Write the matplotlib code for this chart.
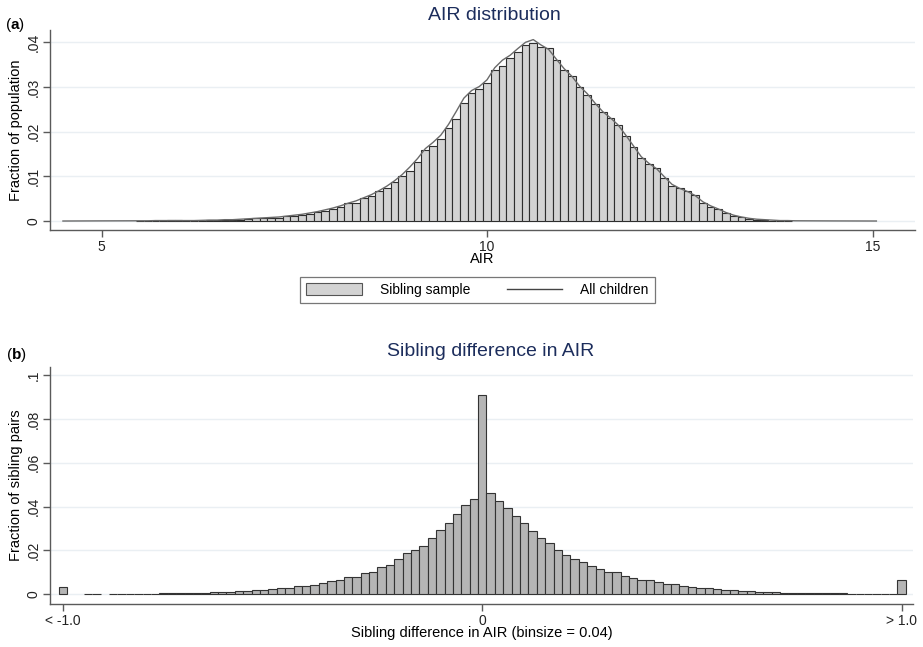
import numpy as np
import matplotlib
matplotlib.use("Agg")
import matplotlib.pyplot as plt
from matplotlib.patches import Patch
from matplotlib.lines import Line2D

plt.rcParams['font.family'] = ['Liberation Sans', 'DejaVu Sans']
plt.rcParams['mathtext.fontset'] = 'custom'
plt.rcParams['mathtext.rm'] = 'Liberation Sans'
plt.rcParams['mathtext.bf'] = 'Liberation Sans:bold'

# --- panel (a): AIR distribution, bins of 0.1 ---
air_centers = np.round(np.arange(5.5, 13.95, 0.1), 1)
sibling_share = [
    0.00005, 0.00005, 0.0001, 0.0001, 0.0002, 0.00015, 0.0001, 0.0001, 0.0001, 0.00015,
    0.0002, 0.0002, 0.0003, 0.0003, 0.0004,
    0.0006, 0.0006, 0.0006, 0.0007, 0.0012, 0.0012, 0.0014, 0.0016, 0.0020, 0.0023,
    0.0027, 0.0031, 0.0040, 0.0040, 0.0051, 0.0056, 0.0067, 0.0075, 0.0088, 0.0101,
    0.0112, 0.0133, 0.0159, 0.0169, 0.0184, 0.0209, 0.0228, 0.0265, 0.0286, 0.0296,
    0.0308, 0.0337, 0.0347, 0.0364, 0.0378, 0.0393, 0.0398, 0.0389, 0.0387, 0.0360,
    0.0339, 0.0324, 0.0300, 0.0283, 0.0261, 0.0243, 0.0230, 0.0216, 0.0190, 0.0165,
    0.0140, 0.0127, 0.0118, 0.0097, 0.0079, 0.0073, 0.0067, 0.0058, 0.0041, 0.0032,
    0.0028, 0.0018, 0.0012, 0.0008, 0.0004, 0.0003, 0.0002, 0.0001, 0.0001, 0.00005,
]
all_children = [
    0.00005, 0.00005, 0.0001, 0.0001, 0.0001, 0.0001, 0.0001, 0.0001, 0.00015, 0.0002,
    0.0002, 0.0003, 0.0003, 0.0004, 0.0005,
    0.0006, 0.0007, 0.0008, 0.0009, 0.0011, 0.0013, 0.0015, 0.0018, 0.0021, 0.0025,
    0.0029, 0.0034, 0.0040, 0.0045, 0.0052, 0.0059, 0.0068, 0.0078, 0.0090, 0.0104,
    0.0121, 0.0140, 0.0162, 0.0176, 0.0192, 0.0216, 0.0245, 0.0275, 0.0292, 0.0301,
    0.0316, 0.0343, 0.0360, 0.0371, 0.0386, 0.0400, 0.0406, 0.0394, 0.0384, 0.0362,
    0.0341, 0.0324, 0.0302, 0.0285, 0.0264, 0.0245, 0.0231, 0.0215, 0.0192, 0.0168,
    0.0144, 0.0129, 0.0117, 0.0099, 0.0082, 0.0073, 0.0066, 0.0057, 0.0043, 0.0034,
    0.0027, 0.0019, 0.0013, 0.0009, 0.0006, 0.0004, 0.0003, 0.0002, 0.0001, 0.0001,
]
line_left_x = [4.5, 5.0]
line_left_y = [0.0, 0.00003]
line_right_x = [14.0, 14.5, 15.05]
line_right_y = [0.00005, 0.00002, 0.0]
a_yticks = [0, 0.01, 0.02, 0.03, 0.04]
a_yticklabels = ["0", ".01", ".02", ".03", ".04"]
a_xticks = [5, 10, 15]

# --- panel (b): sibling differences, plotted bins of 0.02 ---
diff_centers = np.round(np.arange(-49, 50) * 0.02, 2)
pair_share = [
    0.0, 0.0, 0.0001, 0.0001, 0.0, 0.0001, 0.0001, 0.0002, 0.0002, 0.0003,
    0.0003, 0.0004, 0.0004, 0.0005, 0.0006, 0.0007, 0.0008, 0.0009, 0.0011, 0.0012,
    0.0015, 0.0017, 0.0018, 0.0020, 0.0023, 0.0028, 0.0027, 0.0036, 0.0039, 0.0044,
    0.0051, 0.0061, 0.0065, 0.0080, 0.0080, 0.0096, 0.0104, 0.0126, 0.0133, 0.0159,
    0.0188, 0.0202, 0.0222, 0.0256, 0.0292, 0.0324, 0.0365, 0.0408, 0.0436,
    0.0908,
    0.0461, 0.0426, 0.0395, 0.0358, 0.0323, 0.0289, 0.0258, 0.0233, 0.0202, 0.0180,
    0.0162, 0.0147, 0.0131, 0.0117, 0.0100, 0.0100, 0.0085, 0.0073, 0.0067, 0.0064,
    0.0058, 0.0048, 0.0048, 0.0040, 0.0034, 0.0028, 0.0027, 0.0024, 0.0020, 0.0019,
    0.0016, 0.0014, 0.0012, 0.0011, 0.0009, 0.0008, 0.0007, 0.0007, 0.0006, 0.0005,
    0.0005, 0.0004, 0.0004, 0.0003, 0.0003, 0.0002, 0.0002, 0.0002, 0.0001,
]
tail_x = [-1.0, 1.0]
tail_share = [0.0035, 0.0065]
b_yticks = [0, 0.02, 0.04, 0.06, 0.08, 0.1]
b_yticklabels = ["0", ".02", ".04", ".06", ".08", ".1"]
b_xticks = [-1.0, 0, 1.0]
b_xticklabels = ["< -1.0", "0", "> 1.0"]

title_col = "#1c2d5c"
axis_col = "#5a5a5a"
grid_col = "#eaeff3"

W, H = 923, 647
fig = plt.figure(figsize=(W / 100, H / 100), dpi=100)
ax1 = fig.add_axes([50 / W, 1 - 230 / H, 865 / W, 200 / H])
ax2 = fig.add_axes([50 / W, 1 - 604 / H, 863 / W, 237.3 / H])


def style(ax, yticks, ylabels):
    for s in ["top", "right"]:
        ax.spines[s].set_visible(False)
    for s in ["left", "bottom"]:
        ax.spines[s].set_color(axis_col)
        ax.spines[s].set_linewidth(1.0)
    ax.set_yticks(yticks)
    ax.set_yticklabels(ylabels, rotation=90, va="center")
    ax.tick_params(axis="both", length=5, width=1, color=axis_col,
                   labelsize=10, labelcolor="#222222", pad=2)
    for t in yticks:
        ax.axhline(t, color=grid_col, lw=1.0, zorder=0)


# panel (a)
ax1.bar(air_centers, sibling_share, width=0.1, color="#d3d3d3",
        edgecolor="#2e2e2e", linewidth=0.8, zorder=2)
line_x = np.concatenate([line_left_x, air_centers, line_right_x])
line_y = np.concatenate([line_left_y, all_children, line_right_y])
ax1.plot(line_x, line_y, color="#6a6a6a", lw=1.0, zorder=3)
style(ax1, a_yticks, a_yticklabels)
ax1.set_xticks(a_xticks)
ax1.set_xlim(4.332, 15.551)
ax1.set_ylim(-0.00201, 0.04275)
ax1.set_xlabel("AIR", fontsize=10.5, labelpad=-1)
ax1.set_ylabel("Fraction of population", fontsize=10.5, labelpad=2)

# panel (b)
heights = np.array(pair_share)
keep = heights > 0
ax2.bar(diff_centers[keep], heights[keep], width=0.02, color="#b5b5b5",
        edgecolor="#333333", linewidth=0.8, zorder=2)
ax2.bar(tail_x, tail_share, width=0.02, color="#b5b5b5",
        edgecolor="#333333", linewidth=0.8, zorder=2)
style(ax2, b_yticks, b_yticklabels)
ax2.set_xticks(b_xticks)
ax2.set_xticklabels(b_xticklabels)
ax2.set_xlim(-1.0308, 1.027)
ax2.set_ylim(-0.00442, 0.1038)
ax2.set_xlabel("Sibling difference in AIR (binsize = 0.04)", fontsize=10.5, labelpad=-1)
ax2.set_ylabel("Fraction of sibling pairs", fontsize=10.5, labelpad=2)

# titles and panel letters
fig.text(494 / W, 1 - 15 / H, "AIR distribution", ha="center", va="center",
         fontsize=14, color=title_col)
fig.text(491 / W, 1 - 352 / H, "Sibling difference in AIR", ha="center", va="center",
         fontsize=14, color=title_col)
fig.text(5 / W, 1 - 25 / H, r"($\mathbf{a}$)", ha="left", va="center", fontsize=11)
fig.text(6 / W, 1 - 355 / H, r"($\mathbf{b}$)", ha="left", va="center", fontsize=11)

# legend
handles = [Patch(facecolor="#d3d3d3", edgecolor="#555555", linewidth=0.8),
           Line2D([], [], color="#444444", lw=1.0)]
leg = fig.legend(handles, ["Sibling sample", "All children"], ncol=2,
                 loc="center", bbox_to_anchor=(477.5 / W, 1 - 290 / H),
                 fontsize=10, frameon=True, fancybox=False, edgecolor="#555555",
                 handlelength=4.0, handleheight=0.9, handletextpad=1.3,
                 columnspacing=2.6, borderpad=0.45, borderaxespad=0)
leg.get_frame().set_linewidth(0.9)

fig.savefig("out.png", dpi=100)
